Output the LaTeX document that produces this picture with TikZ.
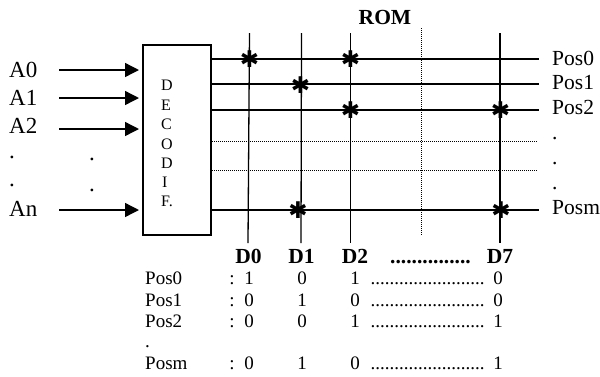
\documentclass[tikz,border=0pt]{standalone}
\usepackage{fontspec}
\setmainfont{Liberation Serif}
\newfontfamily\symfont{DejaVu Sans}
\usetikzlibrary{arrows.meta}
\tikzset{
  x=1pt,y=-1pt,
  big/.style={anchor=base west,inner sep=0pt,font=\fontsize{23}{23}\selectfont},
  rlab/.style={anchor=base west,inner sep=0pt,font=\fontsize{21.5}{21.5}\selectfont},
  head/.style={anchor=base,inner sep=0pt,font=\fontsize{21.5}{21.5}\selectfont\bfseries},
  small/.style={anchor=base west,inner sep=0pt,font=\fontsize{19}{19}\selectfont},
  num/.style={anchor=base,inner sep=0pt,font=\fontsize{19}{19}\selectfont},
  dec/.style={anchor=base west,inner sep=0pt,font=\fontsize{16}{16}\selectfont},
  wire/.style={line width=1.3pt},
  dotwire/.style={line width=1pt,dash pattern=on 1pt off 1pt},
  inarrow/.style={line width=1.4pt,-{Triangle[length=14pt,width=14pt]}},
  fuse/.style={inner sep=0pt,font=\symfont\fontsize{23}{23}\selectfont},
}
\begin{document}
\begin{tikzpicture}
\useasboundingbox (0,0) rectangle (600,376);
\node[draw,line width=1.3pt,minimum width=68pt,minimum height=190pt,inner sep=0pt] (box) at (177,140) {};
% decoder text
\node[dec] (d1) at (161,90) {D};
\node[dec] (d2) at (161,110) {E};
\node[dec] (d3) at (161,129) {C};
\node[dec] (d4) at (161,149) {O};
\node[dec] (d5) at (161,168) {D};
\node[dec] (d6) at (162,187) {I};
\node[dec] (d7) at (161,206) {F.};
% inputs
\node[big] (a0) at (9,77) {A0};
\node[big] (a1) at (9,105) {A1};
\node[big] (a2) at (9,133) {A2};
\node[big] (ad1) at (9,158) {.};
\node[big] (ad2) at (9,186) {.};
\node[big] (adb1) at (89,160) {.};
\node[big] (adb2) at (89,191) {.};
\node[big] (an) at (9,216) {An};
\foreach \n/\y in {a/70,b/98,c/129,d/210}{
  \coordinate (s\n) at (59,\y);
  \coordinate (e\n) at (139,\y);
  \draw[inarrow] (s\n) -- (e\n);
}
% horizontal word lines
\foreach \n/\y/\e in {p0/59/539,p1/84/539,p2/110/539,pm/210/539}{
  \coordinate (l\n) at (211,\y);
  \coordinate (r\n) at (\e,\y);
  \draw[wire] (l\n) -- (r\n);
}
\foreach \n/\y in {q1/141,q2/170}{
  \coordinate (l\n) at (212,\y);
  \coordinate (r\n) at (538,\y);
  \draw[dotwire] (l\n) -- (r\n);
}
% vertical bit lines
\foreach \n/\x/\xb in {v0/249.5/248,v1/301.5/301,v2/350.5/350.5,v7/500/500}{
  \coordinate (t\n) at (\x,33);
  \coordinate (b\n) at (\xb,243);
  \draw[wire] (t\n) -- (b\n);
}
\coordinate (tv) at (421,28);
\coordinate (bv) at (421,236);
\draw[dotwire] (tv) -- (bv);
% fuses
\node[fuse] (f1) at (249.5,59) {✱};
\node[fuse] (f2) at (350.5,59) {✱};
\node[fuse] (f3) at (300.5,85) {✱};
\node[fuse] (f4) at (350.5,110) {✱};
\node[fuse] (f5) at (500.5,110) {✱};
\node[fuse] (f6) at (298,210) {✱};
\node[fuse] (f7) at (501,210) {✱};
% right labels
\node[rlab] (o0) at (552,65) {Pos0};
\node[rlab] (o1) at (552,89) {Pos1};
\node[rlab] (o2) at (552,114) {Pos2};
\node[rlab] (od1) at (552,139) {.};
\node[rlab] (od2) at (552,164) {.};
\node[rlab] (od3) at (552,189) {.};
\node[rlab] (om) at (552,214) {Posm};
% headers
\node[head] (rom) at (385,24) {ROM};
\node[head] (h0) at (248.5,263) {D0};
\node[head] (h1) at (301.5,263) {D1};
\node[head] (h2) at (355,263) {D2};
\node[head] (hd) at (430.5,263) {...............};
\node[head] (h7) at (500,263) {D7};
% table
\foreach \r/\lab/\y/\a/\b/\c/\d in {0/Pos0/284/1/0/1/0,1/Pos1/306/0/1/0/0,2/Pos2/327/0/0/1/1,m/Posm/369/0/1/0/1}{
  \node[small] (n\r) at (145,\y) {\lab};
  \node[num] (c\r) at (232,\y) {:};
  \node[num] (x\r) at (249,\y) {\a};
  \node[num] (y\r) at (302,\y) {\b};
  \node[num] (z\r) at (355,\y) {\c};
  \node[num] (w\r) at (427.5,\y) {........................};
  \node[num] (u\r) at (498,\y) {\d};
}
\node[small] (nd) at (145,347) {.};
\end{tikzpicture}
\end{document}
